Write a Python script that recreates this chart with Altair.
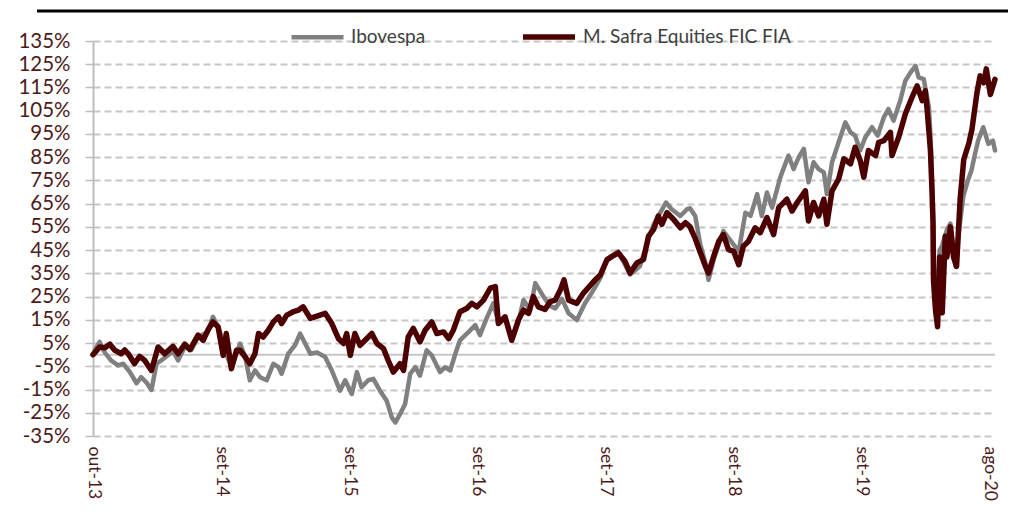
import altair as alt
import pandas as pd

# ---- data (x = trading-day index from out-13) ----
safra_day = [0, 6, 13, 23, 33, 42, 55, 62, 70, 81, 91, 101, 114, 127, 140, 156, 166, 179, 189,
             205, 215, 224, 234, 244, 254, 260, 270, 280, 287, 297, 306, 316, 323, 332, 342, 352,
             362, 368, 378, 391, 401, 410, 424, 437, 453, 466, 479, 489, 495, 502, 511, 521, 531,
             544, 554, 567, 576, 586, 599, 606, 615, 625, 638, 648, 661, 671, 684, 694, 703, 716,
             729, 739, 749, 762, 775, 785, 791, 804, 817, 830, 840, 850, 859, 869, 882, 892, 902,
             912, 919, 928, 944, 957, 977, 990, 1003, 1013, 1025, 1038, 1048, 1061, 1074, 1084,
             1094, 1103, 1110, 1120, 1133, 1146, 1156, 1165, 1175, 1185, 1195, 1201, 1211, 1221,
             1230, 1240, 1250, 1260, 1269, 1279, 1292, 1302, 1315, 1328, 1338, 1354, 1364, 1374,
             1390, 1396, 1406, 1416, 1426, 1432, 1442, 1455, 1465, 1478, 1487, 1497, 1504, 1513,
             1527, 1533, 1543, 1556, 1559, 1572, 1585, 1598, 1608, 1618, 1624, 1627, 1634, 1637,
             1639, 1640, 1644, 1648, 1652, 1657, 1663, 1666, 1673, 1679, 1685, 1692, 1699, 1709,
             1715, 1725, 1731, 1738, 1743, 1751, 1760]
safra_val = [0, 1.5, 3.3, 3.0, 4.5, 2.0, 0.4, 2.0, 0.0, -3.9, -0.7, -2.5, -6.8, 3.3, 0.4, 3.6, 0.4,
             4.5, 2.2, 8.4, 6.2, 10.5, 14.1, 12.0, -0.3, 9.1, -6.1, 1.9, 1.9, -1.0, -3.9, 0.4, 9.1,
             7.6, 10.5, 14.1, 16.3, 13.4, 17.0, 18.5, 19.2, 20.6, 15.6, 16.6, 17.8, 13.4, 6.9, 4.8,
             9.1, -0.3, 9.1, 4.0, 6.2, 9.1, 4.8, 2.6, -2.5, -7.5, -3.9, -6.8, 7.6, 11.3, 5.5, 10.5,
             14.1, 9.1, 9.8, 6.9, 10.5, 18.5, 19.9, 22.1, 20.6, 23.5, 28.6, 29.3, 13.4, 16.3, 6.2,
             14.9, 19.2, 17.8, 25.0, 20.6, 19.5, 22.8, 23.5, 27.9, 32.2, 23.5, 22.1, 26.5, 31.5,
             34.4, 40.9, 42.3, 43.8, 40.2, 35.1, 39.5, 40.9, 51.0, 53.9, 59.7, 56.1, 61.1, 58.2,
             54.6, 56.8, 55.0, 50.0, 44.0, 38.0, 35.1, 42.3, 48.8, 51.7, 45.2, 44.5, 38.7, 46.7,
             48.8, 54.6, 52.5, 59.0, 51.7, 63.3, 66.9, 61.8, 65.5, 70.5, 57.5, 65.5, 59.7, 66.9,
             56.1, 70.5, 75.6, 84.3, 82.1, 89.3, 83.6, 76.4, 87.9, 85.7, 91.4, 92.1, 95.7, 85.7,
             93.6, 103.6, 110.7, 115.7, 109.3, 113.6, 107.0, 88.0, 71.0, 57.0, 32.0, 19.0, 12.0,
             42.0, 18.0, 51.0, 42.0, 55.0, 42.0, 38.0, 67.0, 84.0, 91.0, 97.0, 113.0, 120.0, 117.0,
             123.0, 112.0, 118.5]

ibov_day = [0, 6, 13, 20, 25, 35, 49, 59, 72, 85, 94, 104, 114, 124, 133, 146, 156, 166, 179, 192,
            205, 224, 234, 247, 257, 270, 280, 287, 297, 306, 316, 326, 339, 352, 362, 368, 381,
            394, 404, 414, 424, 437, 453, 466, 482, 492, 505, 515, 524, 537, 547, 560, 573, 583,
            590, 599, 609, 619, 629, 638, 651, 661, 677, 687, 697, 707, 716, 733, 746, 755, 768,
            781, 791, 804, 817, 830, 840, 853, 863, 879, 892, 902, 915, 928, 944, 960, 977, 990,
            1003, 1025, 1048, 1067, 1084, 1094, 1118, 1129, 1146, 1159, 1165, 1175, 1185, 1195,
            1201, 1211, 1230, 1250, 1260, 1273, 1283, 1296, 1305, 1315, 1325, 1341, 1357, 1367,
            1377, 1387, 1396, 1406, 1416, 1426, 1432, 1442, 1455, 1468, 1478, 1487, 1497, 1507,
            1520, 1531, 1543, 1552, 1562, 1575, 1585, 1595, 1605, 1611, 1621, 1631, 1634, 1639,
            1642, 1646, 1648, 1652, 1657, 1666, 1673, 1679, 1683, 1689, 1698, 1707, 1714, 1721,
            1727, 1737, 1747, 1756, 1760]
ibov_val = [0, 3.0, 5.5, 2.0, 0.4, -2.5, -4.6, -3.9, -7.5, -12.3, -9.7, -11.9, -15.2, -3.9, -2.5,
            -0.3, 1.5, -2.5, 3.3, 2.0, 7.6, 9.8, 16.3, 10.5, 2.0, -5.4, 0.5, 4.8, -1.0, -11.0,
            -6.8, -9.7, -11.0, -3.9, -5.4, -8.2, 0.4, 4.0, 9.1, 4.8, 0.4, 1.0, -1.0, -6.8, -15.5,
            -11.0, -16.9, -7.5, -14.0, -11.0, -10.4, -15.5, -19.8, -27.0, -29.2, -25.6, -21.2,
            -8.2, -5.4, -9.0, 1.9, -0.3, -7.5, -5.4, -6.8, 0.4, 6.2, 9.8, 12.7, 8.4, 15.6, 22.1,
            14.0, 16.0, 6.2, 14.0, 23.5, 19.2, 30.8, 25.0, 21.0, 19.9, 24.0, 17.8, 14.9, 22.1,
            28.0, 33.0, 41.0, 44.5, 34.5, 38.0, 50.0, 56.0, 65.5, 62.6, 59.7, 62.6, 63.0, 59.7,
            47.4, 39.5, 32.2, 40.9, 53.2, 47.4, 44.5, 61.1, 59.7, 69.1, 59.7, 69.8, 63.3, 76.3,
            85.7, 79.9, 85.0, 88.6, 74.2, 82.8, 79.9, 78.5, 69.1, 82.8, 91.5, 100.0, 95.7, 94.3,
            87.9, 93.6, 97.9, 94.3, 102.1, 105.7, 100.7, 109.3, 117.9, 121.4, 124.3, 119.3, 118.6,
            106.4, 95.0, 62.0, 30.0, 22.0, 15.0, 45.0, 47.0, 53.6, 56.4, 46.0, 38.0, 52.0, 67.9,
            75.0, 79.3, 86.4, 92.1, 97.9, 90.7, 92.1, 87.9]

series_names = ["Ibovespa", "M. Safra Equities FIC FIA"]
series_colors = ["#808080", "#4c0000"]
series_widths = [4.5, 5.5]

x_tick_days = [0, 250, 500, 750, 1000, 1250, 1500, 1750]
x_tick_labels = ["out-13", "set-14", "set-15", "set-16", "set-17", "set-18", "set-19", "ago-20"]
y_ticks = list(range(-35, 136, 10))

df = pd.concat([
    pd.DataFrame({"day": ibov_day, "value": ibov_val, "series": series_names[0]}),
    pd.DataFrame({"day": safra_day, "value": safra_val, "series": series_names[1]}),
])

FONT = "Lato"
LABEL_COLOR = "#4d1a1a"

label_expr = "[" + ",".join("'%s'" % s for s in x_tick_labels) + "][round(datum.value / 250)]"

x_enc = alt.X("day:Q", scale=alt.Scale(domain=[0, 1760], nice=False, zero=False),
              axis=alt.Axis(values=x_tick_days, tickCount=len(x_tick_days),
                            labelExpr=label_expr, labelAngle=90,
                            grid=False, domain=False, ticks=False, labelPadding=10,
                            labelFontSize=17.5, labelColor=LABEL_COLOR, labelFont=FONT,
                            labelOverlap=False, labelBound=False, title=None))
y_scale = alt.Scale(domain=[-35, 135], nice=False, zero=False)

lines = alt.Chart(df).mark_line(strokeJoin="round", strokeCap="round").encode(
    x=x_enc,
    y=alt.Y("value:Q", scale=y_scale,
            axis=alt.Axis(values=y_ticks, tickCount=len(y_ticks),
                          labelExpr="datum.value + '%'", title=None,
                          grid=True, gridDash=[7, 4], gridColor="#c6c6c6", gridWidth=2,
                          domain=True, domainColor="#bdbdbd", domainWidth=2,
                          ticks=True, tickSize=8, tickColor="#bdbdbd", tickWidth=1.5,
                          labelPadding=15, labelFontSize=20.5, labelColor=LABEL_COLOR,
                          labelFont=FONT, labelOverlap=False, labelBound=False)),
    color=alt.Color("series:N", scale=alt.Scale(domain=series_names, range=series_colors),
                    legend=alt.Legend(title=None, orient="none", legendX=196, legendY=-33,
                                      direction="horizontal", symbolType="stroke",
                                      symbolSize=2700, symbolStrokeWidth=5,
                                      labelFontSize=19, labelFont=FONT, labelColor="#404040",
                                      labelOffset=5, columnPadding=86, padding=0,
                                      labelLimit=0)),
    strokeWidth=alt.StrokeWidth("series:N", scale=alt.Scale(domain=series_names,
                                                            range=series_widths),
                                legend=None),
)

zero_line = alt.Chart(pd.DataFrame({"y": [0]})).mark_rule(color="#c6c6c6", strokeWidth=2).encode(
    y=alt.Y("y:Q", scale=y_scale)
)

top_bar = alt.Chart(pd.DataFrame({"a": [0]})).mark_rule(color="#000000", strokeWidth=3).encode(
    x=alt.value(-56), x2=alt.value(915), y=alt.value(-30)
)

chart = alt.layer(zero_line, lines, top_bar).properties(
    width=902, height=395,
    autosize=alt.AutoSizeParams(type="none"),
    padding={"left": 85, "top": 33, "right": 13, "bottom": 68},
).configure_view(stroke=None)

chart.save("out.html", embed_options={"renderer": "svg", "actions": False})
